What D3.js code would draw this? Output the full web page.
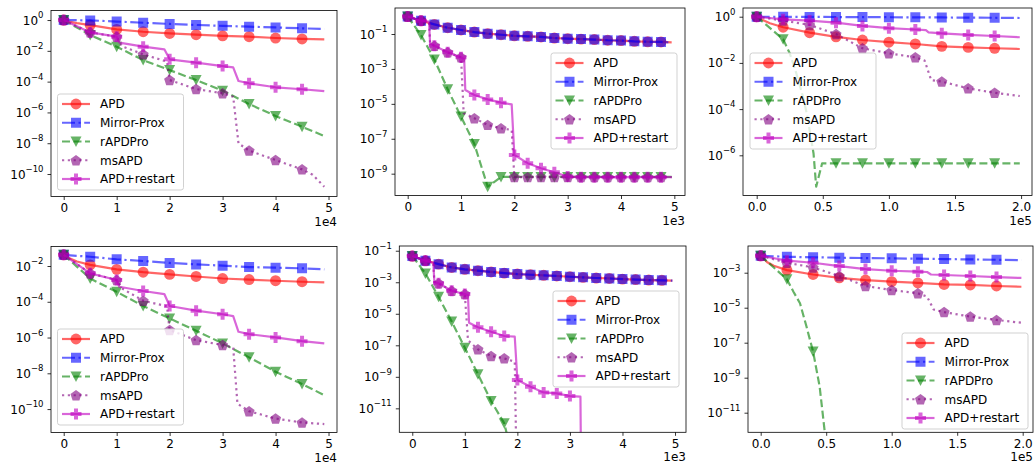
<!DOCTYPE html>
<html lang="en">
<head>
<meta charset="UTF-8">
<title>convergence</title>
<script src="https://cdn.jsdelivr.net/npm/d3@7"></script>
<style>
    body { margin: 0; background: #fff; }
    svg { display: block; font-family: "DejaVu Sans", sans-serif; }
</style>
</head>
<body>
<svg id="main" width="1035" height="465"></svg>
<script>

    // series names and look, in legend order
    var names = ["APD", "Mirror-Prox", "rAPDPro", "msAPD", "APD+restart"];
    var colors = ["#ff0000", "#0000ff", "#008000", "#800080", "#bf00bf"];
    var dashes = [null, "13,3.5,2.2,3.5", "8,3.5", "2.2,3.6", null];
    var marks = ["circle", "square", "tri", "pent", "plus"];

    // tick values
    var ticksIter4 = [0, 10000, 20000, 30000, 40000, 50000];
    var ticksIter3 = [0, 1000, 2000, 3000, 4000, 5000];
    var ticksIter5 = [0, 50000, 100000, 150000, 200000];

    // ---- top left ----
    var p1APD = [[0,1],[1000,0.79],[2500,0.63],[5000,0.47],[10000,0.245],[15000,0.174],[20000,0.135],[25000,0.112],[30000,0.095],[35000,0.083],[40000,0.068],[45000,0.059],[49200,0.055]];
    var p1MP = [[0,1],[5000,0.95],[10000,0.8],[15000,0.67],[20000,0.56],[25000,0.48],[30000,0.42],[35000,0.37],[40000,0.33],[45000,0.29],[49200,0.26]];
    var p1RAPDPro = [[0,1],[5000,0.107],[10000,1.86e-2],[15000,2.5e-3],[20000,5.6e-4],[25000,1.26e-4],[30000,2.6e-5],[35000,3.5e-6],[40000,5.9e-7],[45000,1.17e-7],[49200,2.95e-8]];
    var p1MsAPD = [[0,1],[5000,0.158],[10000,8.3e-2],[11000,2.0e-2],[15000,5.9e-3],[19500,2.0e-3],[20000,1.26e-4],[25000,3.3e-5],[30000,1.74e-5],[32000,1.05e-5],[33000,9.8e-9],[35000,3.3e-9],[40000,8.1e-10],[45000,2.0e-10],[47000,9e-11],[49200,1.5e-11]];
    var p1Restart = [[0,1],[5000,0.158],[10000,8.3e-2],[10500,3.4e-2],[15000,1.86e-2],[19000,1.26e-2],[20000,2.8e-3],[25000,1.7e-3],[30000,1.02e-3],[32000,8.5e-4],[33000,1.1e-4],[35000,7.8e-5],[40000,4.3e-5],[45000,3.2e-5],[49200,2.45e-5]];

    // ---- top middle ----
    var p2APD = [[0,1],[250,0.575],[500,0.355],[750,0.229],[1000,0.170],[1250,0.129],[1500,0.105],[1750,0.091],[2000,0.079],[2250,0.074],[2500,0.068],[2750,0.059],[3000,0.054],[3250,0.051],[3500,0.048],[3750,0.044],[4000,0.042],[4250,0.038],[4500,0.036],[4750,0.035],[4950,0.033]];
    var p2MP = [[0,1],[250,0.575],[500,0.355],[750,0.229],[1000,0.170],[1250,0.129],[1500,0.105],[1750,0.091],[2000,0.079],[2250,0.074],[2500,0.068],[2750,0.059],[3000,0.054],[3250,0.051],[3500,0.048],[3750,0.044],[4000,0.042],[4250,0.038],[4500,0.036],[4750,0.035],[4950,0.033]];
    var p2RAPDPro = [[0,1],[250,8.7e-2],[500,3.5e-3],[750,6.8e-5],[1000,1.86e-6],[1250,5e-8],[1500,1.8e-10],[1750,6.5e-10],[2000,6.5e-10],[2250,6.5e-10],[2500,6.5e-10],[2750,6.5e-10],[3000,6.5e-10],[3250,6.5e-10],[3500,6.5e-10],[3750,6.5e-10],[4000,6.5e-10],[4250,6.5e-10],[4500,6.5e-10],[4750,6.5e-10],[4950,6.5e-10]];
    var p2MsAPD = [[0,1],[250,0.575],[400,0.51],[420,2.95e-2],[500,2.1e-2],[750,8.9e-3],[1000,4.6e-3],[1050,2.9e-6],[1250,1.5e-6],[1500,6.2e-7],[1750,4e-7],[1950,3.2e-7],[2000,6.3e-10],[2250,6.3e-10],[2500,6.3e-10],[2750,6.3e-10],[3000,6.3e-10],[3250,6.3e-10],[3500,6.3e-10],[3750,6.3e-10],[4000,6.3e-10],[4250,6.3e-10],[4500,6.3e-10],[4750,6.3e-10],[4950,6.3e-10]];
    var p2Restart = [[0,1],[250,0.575],[400,0.51],[420,2.95e-2],[500,2.1e-2],[750,8.9e-3],[1000,4.6e-3],[1060,3.6e-3],[1080,6.2e-5],[1250,3.2e-5],[1500,1.8e-5],[1750,1.17e-5],[1950,9.3e-6],[2000,1.17e-8],[2250,4e-9],[2500,2.05e-9],[2750,1.2e-9],[3000,6.8e-10],[3250,6.3e-10],[3500,6.3e-10],[3750,6.3e-10],[4000,6.3e-10],[4250,6.3e-10],[4500,6.3e-10],[4750,6.3e-10],[4950,6.3e-10]];

    // ---- top right ----
    var p3APD = [[0,1],[5000,0.71],[10000,0.52],[20000,0.35],[40000,0.204],[60000,0.135],[80000,0.098],[100000,0.079],[120000,0.066],[140000,0.052],[160000,0.047],[180000,0.043],[199000,0.040]];
    var p3MP = [[0,1],[20000,0.99],[40000,0.98],[60000,0.97],[80000,0.96],[100000,0.95],[120000,0.94],[140000,0.93],[160000,0.91],[180000,0.9],[199000,0.88]];
    var p3RAPDPro = [[0,1],[20000,0.105],[25000,2.6e-2],[30000,3.5e-3],[35000,3.5e-4],[38000,6e-5],[43000,1.2e-6],[45000,4.4e-8],[49500,4.5e-7],[60000,4.5e-7],[80000,4.5e-7],[100000,4.5e-7],[120000,4.5e-7],[140000,4.5e-7],[160000,4.5e-7],[180000,4.5e-7],[199000,4.5e-7]];
    var p3MsAPD = [[0,1],[20000,0.68],[40000,0.44],[60000,0.178],[80000,4.3e-2],[100000,2.6e-2],[120000,1.74e-2],[127000,1.26e-2],[132000,1.8e-3],[140000,1.55e-3],[160000,7.9e-4],[180000,5.1e-4],[199000,3.7e-4]];
    var p3Restart = [[0,1],[20000,0.77],[40000,0.68],[60000,0.55],[80000,0.40],[100000,0.32],[120000,0.28],[128000,0.26],[130000,0.21],[140000,0.19],[160000,0.163],[180000,0.146],[199000,0.129]];

    // ---- bottom left ----
    var p4APD = [[0,4.2e-2],[1000,2.8e-2],[2500,1.78e-2],[5000,1.15e-2],[10000,6.5e-3],[15000,4.5e-3],[20000,3.4e-3],[25000,2.6e-3],[30000,2.0e-3],[35000,1.74e-3],[40000,1.5e-3],[45000,1.32e-3],[49200,1.23e-3]];
    var p4MP = [[0,4.2e-2],[5000,3.3e-2],[10000,2.35e-2],[15000,1.9e-2],[20000,1.48e-2],[25000,1.23e-2],[30000,1.05e-2],[35000,8.7e-3],[40000,8.1e-3],[45000,7.4e-3],[49200,6.5e-3]];
    var p4RAPDPro = [[0,4.2e-2],[5000,2.0e-3],[10000,3.6e-4],[15000,5.8e-5],[20000,1.17e-5],[25000,2.4e-6],[30000,4.7e-7],[35000,7.8e-8],[40000,1.23e-8],[45000,2.5e-9],[49200,6e-10]];
    var p4MsAPD = [[0,4.2e-2],[5000,3.9e-3],[10000,1.66e-3],[11000,5.6e-4],[15000,1.15e-4],[19500,5.6e-5],[20000,2.6e-6],[25000,7.2e-7],[30000,3.8e-7],[32000,2.8e-7],[32800,2.0e-10],[35000,7.6e-11],[40000,2.95e-11],[45000,1.78e-11],[49200,1.45e-11]];
    var p4Restart = [[0,4.2e-2],[5000,3.9e-3],[10000,1.66e-3],[10500,6.9e-4],[15000,4.0e-4],[19000,2.7e-4],[20000,5.8e-5],[25000,3.2e-5],[30000,2.0e-5],[32000,1.58e-5],[33000,2.1e-6],[35000,1.55e-6],[40000,1.02e-6],[45000,6.3e-7],[49200,4.7e-7]];

    // ---- bottom middle ----
    var p5APD = [[0,4.6e-2],[250,2.35e-2],[500,1.41e-2],[750,8.7e-3],[1000,6.6e-3],[1250,5.4e-3],[1500,4.5e-3],[1750,3.8e-3],[2000,3.3e-3],[2250,3.0e-3],[2500,2.75e-3],[2750,2.5e-3],[3000,2.24e-3],[3250,2.04e-3],[3500,1.86e-3],[3750,1.74e-3],[4000,1.58e-3],[4250,1.48e-3],[4500,1.38e-3],[4750,1.32e-3],[4950,1.26e-3]];
    var p5MP = [[0,4.6e-2],[250,2.35e-2],[500,1.41e-2],[750,8.7e-3],[1000,6.6e-3],[1250,5.4e-3],[1500,4.5e-3],[1750,3.8e-3],[2000,3.3e-3],[2250,3.0e-3],[2500,2.75e-3],[2750,2.5e-3],[3000,2.24e-3],[3250,2.04e-3],[3500,1.86e-3],[3750,1.74e-3],[4000,1.58e-3],[4250,1.48e-3],[4500,1.38e-3],[4750,1.32e-3],[4950,1.26e-3]];
    var p5RAPDPro = [[0,4.6e-2],[250,3.6e-3],[500,1.2e-4],[750,3.2e-6],[1000,7.1e-8],[1250,1.45e-9],[1500,2.95e-11],[1750,1.12e-12],[1850,5e-14]];
    var p5MsAPD = [[0,4.6e-2],[250,2.35e-2],[400,1.74e-2],[420,1.07e-3],[500,8.5e-4],[750,2.9e-4],[1000,1.78e-4],[1060,2.1e-7],[1250,5.5e-8],[1500,2.1e-8],[1750,1.48e-8],[1950,9.1e-9],[1980,1e-14]];
    var p5Restart = [[0,4.6e-2],[250,2.35e-2],[400,1.74e-2],[420,1.07e-3],[500,8.5e-4],[750,2.9e-4],[1000,1.78e-4],[1060,1.5e-4],[1080,2.7e-6],[1250,1.38e-6],[1500,7.2e-7],[1750,3.9e-7],[1950,3.5e-7],[2000,6.3e-10],[2250,2.35e-10],[2500,1.02e-10],[2750,8.9e-11],[3000,6e-11],[3200,5.5e-11],[3210,1e-14]];

    // ---- bottom right ----
    var p6APD = [[0,9.3e-3],[5000,4e-3],[10000,2.5e-3],[20000,1.41e-3],[40000,7.9e-4],[60000,5.1e-4],[80000,3.8e-4],[100000,3.1e-4],[120000,2.6e-4],[140000,2.14e-4],[160000,2.0e-4],[180000,1.74e-4],[199000,1.58e-4]];
    var p6MP = [[0,9.3e-3],[20000,8.1e-3],[40000,7.6e-3],[60000,7.2e-3],[80000,6.9e-3],[100000,6.6e-3],[120000,6.3e-3],[140000,6.0e-3],[160000,5.75e-3],[180000,5.5e-3],[199000,5.25e-3]];
    var p6RAPDPro = [[0,9.3e-3],[20000,4.2e-4],[25000,8.2e-5],[30000,1.8e-5],[35000,8.1e-7],[40000,3.1e-8],[45000,3.1e-10],[49000,6.8e-13],[52000,1e-14]];
    var p6MsAPD = [[0,9.3e-3],[20000,3.7e-3],[40000,2.0e-3],[60000,6.5e-4],[80000,1.74e-4],[100000,1.02e-4],[120000,6.6e-5],[127000,4.3e-5],[132000,7.9e-6],[140000,5.6e-6],[160000,3.1e-6],[180000,2.0e-6],[199000,1.38e-6]];
    var p6Restart = [[0,9.3e-3],[20000,4.9e-3],[40000,3.7e-3],[60000,2.4e-3],[80000,1.62e-3],[100000,1.29e-3],[120000,1.15e-3],[127000,1.1e-3],[130000,7.9e-4],[140000,7.4e-4],[160000,6.5e-4],[180000,5.6e-4],[199000,5.0e-4]];

    // layout of the six axes (pixel box, domains, ticks, legend spot)
    var panels = [
        {series: [p1APD, p1MP, p1RAPDPro, p1MsAPD, p1Restart], box: [51, 10.5, 337, 196.5],
         xDomain: [-2400, 51600], yExp: [-11.46, 0.62], xTicks: ticksIter4, xUnit: 1e4, xDigits: 0,
         offset: "1e4", yTicks: [0, -2, -4, -6, -8, -10], legend: [57.5, 94], every: 5000},
        {series: [p2APD, p2MP, p2RAPDPro, p2MsAPD, p2Restart], box: [395, 8, 685, 195.5],
         xDomain: [-238, 5200], yExp: [-10.25, 0.49], xTicks: ticksIter3, xUnit: 1e3, xDigits: 0,
         offset: "1e3", yTicks: [-1, -3, -5, -7, -9], legend: [551, 53], every: 250},
        {series: [p3APD, p3MP, p3RAPDPro, p3MsAPD, p3Restart], box: [743, 8, 1032, 195.5],
         xDomain: [-10360, 208250], yExp: [-7.74, 0.377], xTicks: ticksIter5, xUnit: 1e5, xDigits: 1,
         offset: "1e5", yTicks: [0, -2, -4, -6], legend: [750, 53], every: 20000},
        {series: [p4APD, p4MP, p4RAPDPro, p4MsAPD, p4Restart], box: [51, 246.5, 337, 432.5],
         xDomain: [-2400, 51600], yExp: [-11.31, -0.909], xTicks: ticksIter4, xUnit: 1e4, xDigits: 0,
         offset: "1e4", yTicks: [-2, -4, -6, -8, -10], legend: [57.5, 329], every: 5000},
        {series: [p5APD, p5MP, p5RAPDPro, p5MsAPD, p5Restart], box: [399.3, 246, 686, 432.3],
         xDomain: [-247, 5209], yExp: [-12.52, -0.70], xTicks: ticksIter3, xUnit: 1e3, xDigits: 0,
         offset: "1e3", yTicks: [-1, -3, -5, -7, -9, -11], legend: [553, 291], every: 250},
        {series: [p6APD, p6MP, p6RAPDPro, p6MsAPD, p6Restart], box: [748, 246, 1033, 432.3],
         xDomain: [-9690, 207860], yExp: [-12.12, -1.474], xTicks: ticksIter5, xUnit: 1e5, xDigits: 1,
         offset: "1e5", yTicks: [-3, -5, -7, -9, -11], legend: [902, 333], every: 20000}
    ];

    var svg = d3.select("#main");
    var defs = svg.append("defs");

    function markerPath(kind) {
        if (kind === "circle") return d3.symbol().type(d3.symbolCircle).size(Math.PI * 30)();
        if (kind === "square") return "M-5,-5H5V5H-5Z";
        if (kind === "tri") return "M-5.5,-5L5.5,-5L0,5.5Z";
        if (kind === "pent") {
            var pts = [];
            for (var i = 0; i < 5; i++) {
                var a = -Math.PI / 2 + i * 2 * Math.PI / 5;
                pts.push([5.8 * Math.cos(a), 5.8 * Math.sin(a) + 0.5]);
            }
            return "M" + pts.join("L") + "Z";
        }
        // filled plus
        var b = 2, c = 5.5;
        return "M" + [[-b,-c],[b,-c],[b,-b],[c,-b],[c,b],[b,b],[b,c],[-b,c],[-b,b],[-c,b],[-c,-b],[-b,-b]].join("L") + "Z";
    }

    function supText(sel, e) {
        sel.append("tspan").text("10");
        sel.append("tspan").attr("dy", -6.5).attr("font-size", 8.5)
            .text(e === 0 ? "0" : "\u2212" + (-e));
    }

    panels.forEach(function(p, pi) {
        var L = p.box[0], T = p.box[1], R = p.box[2], B = p.box[3];
        var x = d3.scaleLinear().domain(p.xDomain).range([L, R]);
        var y = d3.scaleLog().domain([Math.pow(10, p.yExp[0]), Math.pow(10, p.yExp[1])]).range([B, T]);

        var g = svg.append("g");

        defs.append("clipPath").attr("id", "clip" + pi)
            .append("rect").attr("x", L).attr("y", T).attr("width", R - L).attr("height", B - T);

        var plot = g.append("g").attr("clip-path", "url(#clip" + pi + ")");
        var line = d3.line().x(function(d) { return x(d[0]); }).y(function(d) { return y(d[1]); });

        p.series.forEach(function(data, k) {
            plot.append("path")
                .datum(data)
                .attr("d", line)
                .attr("fill", "none")
                .attr("stroke", colors[k])
                .attr("stroke-opacity", 0.6)
                .attr("stroke-width", 2.2)
                .attr("stroke-linejoin", "round")
                .attr("stroke-dasharray", dashes[k]);

            plot.selectAll(null)
                .data(data.filter(function(d) { return d[0] % p.every === 0; }))
                .enter().append("path")
                .attr("d", markerPath(marks[k]))
                .attr("transform", function(d) { return "translate(" + x(d[0]) + "," + y(d[1]) + ")"; })
                .attr("fill", colors[k])
                .attr("fill-opacity", 0.6);
        });

        // x axis
        var xa = g.append("g")
            .attr("transform", "translate(0," + B + ")")
            .call(d3.axisBottom(x).tickValues(p.xTicks).tickSize(3.5).tickPadding(3.5)
                .tickFormat(function(v) { return (v / p.xUnit).toFixed(p.xDigits); }));
        xa.select(".domain").remove();
        xa.selectAll("line").attr("stroke", "#000").attr("stroke-width", 0.8);
        xa.selectAll("text").attr("font-size", 12).attr("font-family", "DejaVu Sans").attr("fill", "#000");

        g.append("text")
            .attr("x", R).attr("y", B + 29)
            .attr("text-anchor", "end")
            .attr("font-size", 12)
            .text(p.offset);

        // y axis, labels as 10^n
        var ya = g.append("g")
            .attr("transform", "translate(" + L + ",0)")
            .call(d3.axisLeft(y).tickValues(p.yTicks.map(function(e) { return Math.pow(10, e); }))
                .tickSize(3.5).tickFormat(""));
        ya.select(".domain").remove();
        ya.selectAll("line").attr("stroke", "#000").attr("stroke-width", 0.8);

        p.yTicks.forEach(function(e) {
            var t = g.append("text")
                .attr("x", L - 7.5)
                .attr("y", y(Math.pow(10, e)) + 4.5)
                .attr("text-anchor", "end")
                .attr("font-size", 12);
            supText(t, e);
        });

        // frame
        g.append("rect")
            .attr("x", L).attr("y", T).attr("width", R - L).attr("height", B - T)
            .attr("fill", "none").attr("stroke", "#000").attr("stroke-width", 0.8);

        // legend
        var lx = p.legend[0], ly = p.legend[1];
        var lg = g.append("g").attr("transform", "translate(" + lx + "," + ly + ")");
        lg.append("rect")
            .attr("width", 126).attr("height", 96).attr("rx", 2.5)
            .attr("fill", "#fff").attr("fill-opacity", 0.8)
            .attr("stroke", "#cccccc").attr("stroke-width", 0.9);

        names.forEach(function(n, k) {
            var ry = 10 + k * 18.75;
            lg.append("line")
                .attr("x1", 4.5).attr("x2", 32.5).attr("y1", ry).attr("y2", ry)
                .attr("stroke", colors[k]).attr("stroke-opacity", 0.6).attr("stroke-width", 2.2)
                .attr("stroke-dasharray", dashes[k]);
            lg.append("path")
                .attr("d", markerPath(marks[k]))
                .attr("transform", "translate(18.5," + ry + ")")
                .attr("fill", colors[k]).attr("fill-opacity", 0.6);
            lg.append("text")
                .attr("x", 42.5).attr("y", ry + 4.4)
                .attr("font-size", 12)
                .text(n);
        });
    });

</script>
</body>
</html>
